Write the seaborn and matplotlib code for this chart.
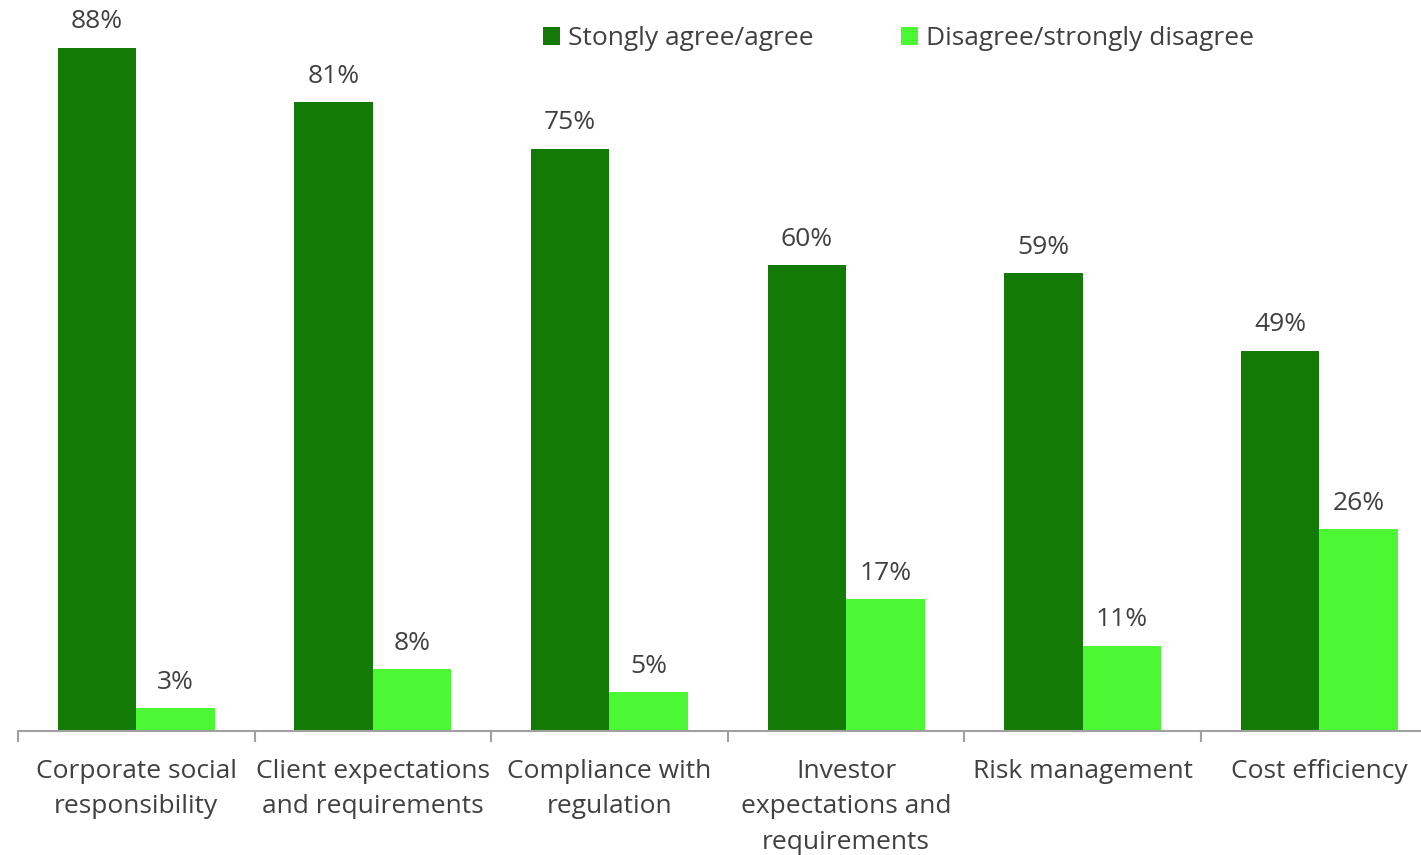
import matplotlib
matplotlib.use("Agg")
import matplotlib.pyplot as plt
import seaborn as sns
import pandas as pd
import numpy as np
from matplotlib.ticker import FixedLocator

categories = ["Corporate social\nresponsibility", "Client expectations\nand requirements",
              "Compliance with\nregulation", "Investor\nexpectations and\nrequirements",
              "Risk management", "Cost efficiency"]
series_names = ["Stongly agree/agree", "Disagree/strongly disagree"]
agree = [88, 81, 75, 60, 59, 49]
disagree = [3, 8, 5, 17, 11, 26]
colors = ["#137B05", "#4CF733"]

df = pd.DataFrame({
    "category": categories * 2,
    "series": [series_names[0]] * len(categories) + [series_names[1]] * len(categories),
    "value": agree + disagree,
})

sns.set_theme(style="white")
plt.rcParams['font.family'] = ['Open Sans', 'DejaVu Sans']
text_color = "#404040"
fs = 19

W, H = 1421, 855
fig = plt.figure(figsize=(W / 100, H / 100), dpi=100)
ax = fig.add_axes([18 / W, (H - 731) / H, (W - 18) / W, 731 / H])

sns.barplot(data=df, x="category", y="value", hue="series", palette=colors,
            width=0.663, saturation=1, ax=ax, legend=True, linewidth=0)

ax.set_ylim(0, 731 / 7.765)
ax.set_xlim(-0.5, 5.43)

for c in ax.containers:
    ax.bar_label(c, fmt="%d%%", padding=9.5, fontsize=fs, color=text_color)

for s in ["top", "right", "left"]:
    ax.spines[s].set_visible(False)
ax.spines["bottom"].set_color("#A0A0A0")
ax.spines["bottom"].set_linewidth(1.5)
ax.set_yticks([])
ax.set_xlabel("")
ax.set_ylabel("")
ax.xaxis.set_minor_locator(FixedLocator(np.arange(-0.5, 6, 1.0)))
ax.tick_params(axis="x", which="major", length=0, pad=20, labelsize=fs, labelcolor=text_color)
ax.tick_params(axis="x", which="minor", length=8, width=1.5, color="#A0A0A0", direction="out", bottom=True)
for lbl in ax.get_xticklabels():
    lbl.set_linespacing(1.56)
    lbl.set_verticalalignment("top")

leg = ax.legend(loc="upper left", bbox_to_anchor=(525 / (W - 18), 1.0 - 26 / 731), ncol=2,
                frameon=False, fontsize=fs, handlelength=0.65, handleheight=0.65,
                handletextpad=0.3, columnspacing=3.3, labelcolor=text_color,
                borderpad=0, borderaxespad=0)

fig.savefig("out.png", dpi=100)
